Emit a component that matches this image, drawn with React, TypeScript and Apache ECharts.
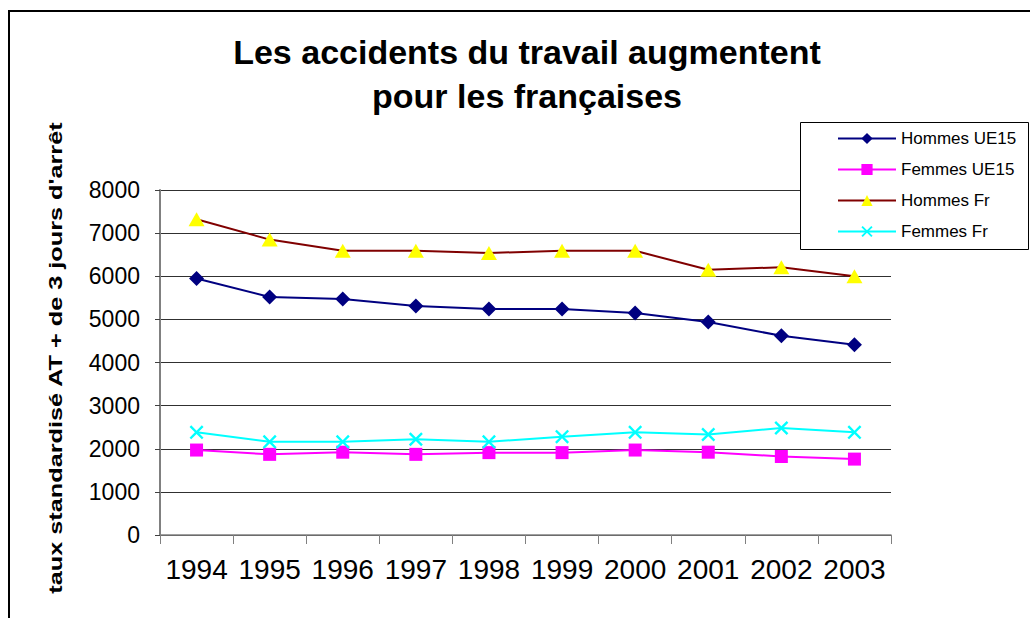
import React, { useEffect, useRef } from "react";
import * as echarts from "echarts";

const years = ["1994", "1995", "1996", "1997", "1998", "1999", "2000", "2001", "2002", "2003"];
const hommesUE15 = [5950, 5520, 5470, 5310, 5240, 5240, 5150, 4940, 4620, 4410];
const femmesUE15 = [1970, 1870, 1920, 1870, 1910, 1910, 1970, 1920, 1820, 1760];
const hommesFr = [7320, 6850, 6590, 6590, 6540, 6590, 6590, 6150, 6210, 6000];
const femmesFr = [2380, 2160, 2160, 2220, 2160, 2280, 2380, 2330, 2480, 2380];

const titleText = "Les accidents du travail augmentent\npour les françaises";
const yAxisTitle = "taux standardisé AT + de 3 jours d'arrêt";
const FONT = "'Liberation Sans', Arial, Helvetica, sans-serif";

const crossPath =
  "path://M0,1.2L1.2,0L5,3.8L8.8,0L10,1.2L6.2,5L10,8.8L8.8,10L5,6.2L1.2,10L0,8.8L3.8,5Z";

export default function App() {
  const ref = useRef<HTMLDivElement>(null);
  useEffect(() => {
    if (!ref.current) return;
    const chart = echarts.init(ref.current, null, { renderer: "svg" });
    chart.setOption({
      animation: false,
      backgroundColor: "#ffffff",
      textStyle: { fontFamily: FONT },
      title: {
        text: titleText,
        left: 527,
        top: 30,
        padding: 0,
        textAlign: "center",
        textStyle: {
          fontFamily: FONT,
          fontSize: 34,
          fontWeight: "bold",
          color: "#000",
          lineHeight: 44,
        },
      },
      grid: { left: 160, right: 139, top: 190, bottom: 83, containLabel: false },
      legend: {
        orient: "vertical",
        left: 837,
        top: 130,
        padding: 0,
        itemWidth: 58,
        itemHeight: 14,
        itemGap: 14,
        itemTextGap: 5,
        z: 20,
        textStyle: { fontFamily: FONT, fontSize: 17, color: "#000", lineHeight: 17, padding: [0, 0, 0, 0] },
        data: ["Hommes UE15", "Femmes UE15", "Hommes Fr", "Femmes Fr"],
      },
      xAxis: {
        type: "category",
        data: years,
        boundaryGap: true,
        axisLine: { show: true, lineStyle: { color: "#808080", width: 1.5 } },
        axisTick: { show: true, length: 9, lineStyle: { color: "#808080" } },
        axisLabel: {
          fontFamily: FONT,
          fontSize: 28,
          color: "#000",
          margin: 20,
          interval: 0,
          hideOverlap: false,
        },
        splitLine: { show: false },
      },
      yAxis: {
        type: "value",
        min: 0,
        max: 8000,
        interval: 1000,
        axisLine: { show: true, lineStyle: { color: "#808080", width: 2 } },
        axisTick: { show: true, inside: false, length: 5, lineStyle: { color: "#404040" } },
        axisLabel: {
          fontFamily: FONT,
          fontSize: 23,
          color: "#000",
          margin: 20,
          formatter: (v: number) => String(v),
        },
        splitLine: { show: true, lineStyle: { color: "#303030", width: 1 } },
      },
      graphic: [
        {
          type: "polyline",
          z: 5,
          shape: { points: [[9, 618], [9, 11], [1030, 11]] },
          style: { stroke: "#000", lineWidth: 2, fill: null },
        },
        {
          type: "rect",
          z: 10,
          shape: { x: 800.5, y: 122.5, width: 228, height: 127 },
          style: { fill: "#fff", stroke: "#000", lineWidth: 1 },
        },
        {
          type: "text",
          z: 10,
          x: 56,
          y: 358,
          rotation: Math.PI / 2,
          scaleX: 1.33,
          scaleY: 1,
          style: {
            text: yAxisTitle,
            font: `bold 19px ${FONT}`,
            fill: "#000",
            textAlign: "center",
            textVerticalAlign: "middle",
          },
        },
      ],
      series: [
        {
          name: "Hommes UE15",
          type: "line",
          data: hommesUE15,
          symbol: "diamond",
          symbolSize: 15,
          lineStyle: { color: "#000080", width: 2 },
          itemStyle: { color: "#000080" },
        },
        {
          name: "Femmes UE15",
          type: "line",
          data: femmesUE15,
          symbol: "rect",
          symbolSize: 13,
          lineStyle: { color: "#FF00FF", width: 2 },
          itemStyle: { color: "#FF00FF" },
        },
        {
          name: "Hommes Fr",
          type: "line",
          data: hommesFr,
          symbol: "triangle",
          symbolSize: [16, 14],
          lineStyle: { color: "#800000", width: 2 },
          itemStyle: { color: "#FFFF00" },
        },
        {
          name: "Femmes Fr",
          type: "line",
          data: femmesFr,
          symbol: crossPath,
          symbolSize: 14,
          lineStyle: { color: "#00FFFF", width: 2 },
          itemStyle: { color: "#00FFFF" },
        },
      ],
    });
    return () => chart.dispose();
  }, []);
  return (
    <div
      ref={ref}
      style={{ position: "fixed", left: 0, top: 0, width: 1030, height: 618 }}
    />
  );
}
